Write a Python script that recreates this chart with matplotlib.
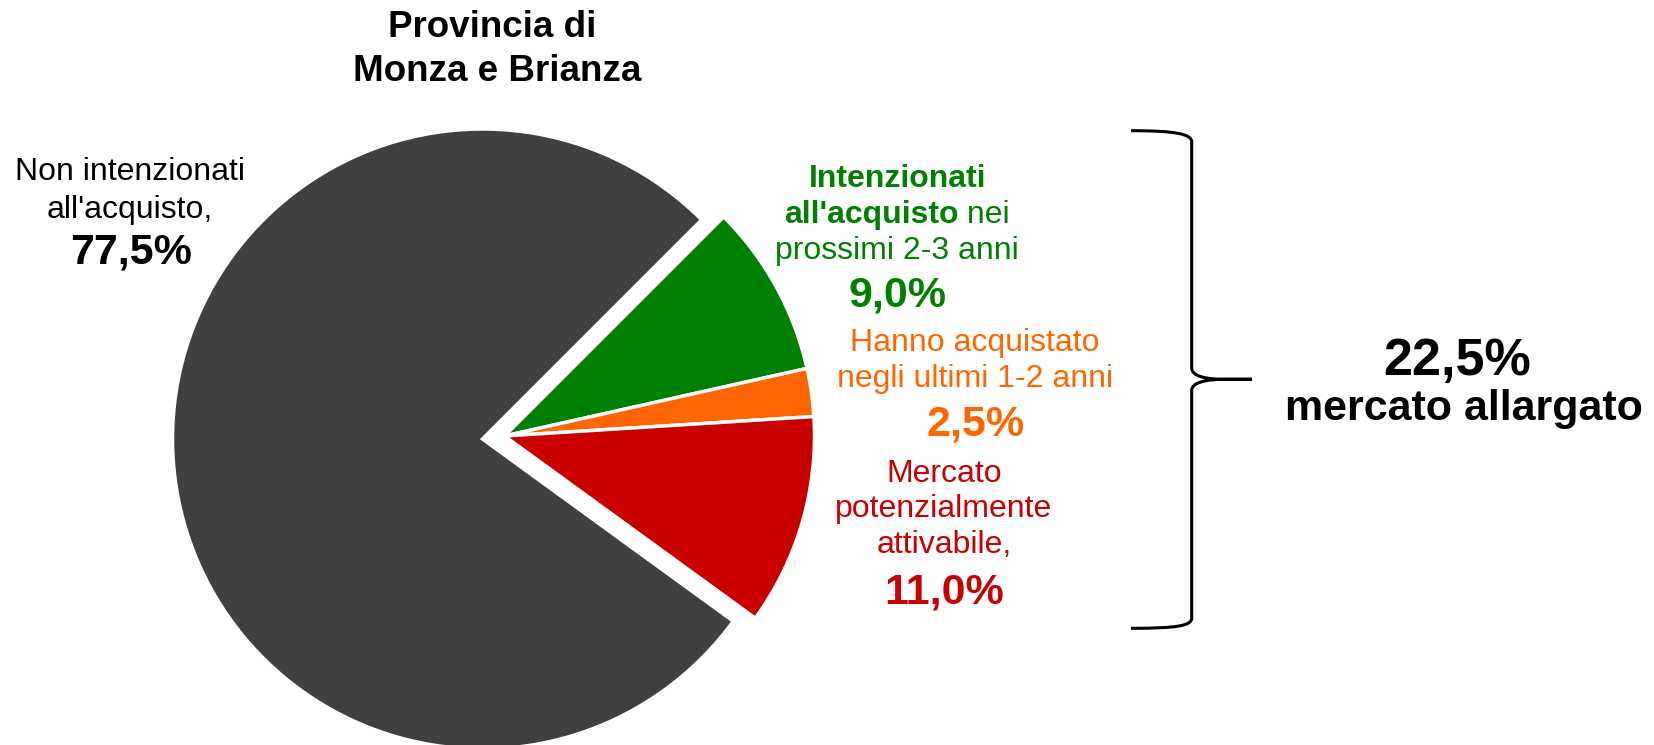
import matplotlib.pyplot as plt
from matplotlib.path import Path
from matplotlib.patches import PathPatch

plt.rcParams['font.family'] = ['Liberation Sans', 'DejaVu Sans']

# Provincia di Monza e Brianza - shares, clockwise from top right
segments = ["Intenzionati all'acquisto", "Hanno acquistato", "Mercato potenzialmente attivabile", "Non intenzionati"]
shares = [9.0, 2.5, 11.0, 77.5]
colors = ["#008000", "#FF6600", "#C80000", "#404040"]


def pct(v):
    return f"{v:.1f}".replace('.', ',') + "%"


W, H = 1654, 745
fig = plt.figure(figsize=(W / 100, H / 100), dpi=100)
ax = fig.add_axes([0, 0, 1, 1])

cx, cy = 482.5, H - 439
wedges, _ = ax.pie(shares, colors=colors, startangle=45, counterclock=False,
                   center=(cx, cy), radius=310,
                   wedgeprops=dict(edgecolor='white', linewidth=2.5))
ax.set_xlim(0, W)
ax.set_ylim(0, H)
ax.set_aspect('equal')
ax.axis('off')

# the three slices of the "mercato allargato" are pulled out together
for w in wedges[:3]:
    w.set_center((cx + 22, cy + 3))


def txt(x, y, s, **kw):
    # y measured from the top, like the picture
    return ax.text(x, H - y, s, ha='center', va='baseline', **kw)


FS = 23
FS_PCT = 31

# title
txt(492, 36.7, "Provincia di", fontsize=26.5, fontweight='bold')
txt(497, 81, "Monza e Brianza", fontsize=26.5, fontweight='bold')

# non intenzionati
txt(130, 180, "Non intenzionati", fontsize=FS)
txt(130, 217.7, "all'acquisto,", fontsize=FS)
txt(131, 264, pct(shares[3]), fontsize=FS_PCT, fontweight='bold')

# intenzionati
g = colors[0]
txt(898, 186.7, "Intenzionati", fontsize=FS, fontweight='bold', color=g)
t1 = ax.text(0, H - 222.7, "all'acquisto", fontsize=FS, fontweight='bold', color=g,
             ha='left', va='baseline')
t2 = ax.text(0, H - 222.7, " nei", fontsize=FS, color=g, ha='left', va='baseline')
txt(897, 259, "prossimi 2-3 anni", fontsize=FS, color=g)
txt(897, 306.7, pct(shares[0]), fontsize=FS_PCT, fontweight='bold', color=g)

# hanno acquistato
o = colors[1]
txt(975, 350.7, "Hanno acquistato", fontsize=FS, color=o)
txt(975, 387.3, "negli ultimi 1-2 anni", fontsize=FS, color=o)
txt(976, 435, pct(shares[1]), fontsize=FS_PCT, fontweight='bold', color=o)

# mercato potenzialmente attivabile
r = colors[2]
txt(944, 481.7, "Mercato", fontsize=FS, color=r)
txt(944, 517.3, "potenzialmente", fontsize=FS, color=r)
txt(944, 553.3, "attivabile,", fontsize=FS, color=r)
txt(944, 603.3, pct(shares[2]), fontsize=FS_PCT, fontweight='bold', color=r)

# mercato allargato
txt(1457, 375, pct(sum(shares[:3])), fontsize=37.5, fontweight='bold')
txt(1464, 420, "mercato allargato", fontsize=31, fontweight='bold')

# curly brace
pts = [(1131, 130.7), (1176, 130.7), (1191.7, 134), (1191.7, 142),
       (1191.7, 368),
       (1191.7, 376), (1205, 379.3), (1225, 379.3),
       (1251.7, 379.3),
       (1225, 379.3),
       (1205, 379.3), (1191.7, 382.6), (1191.7, 390.6),
       (1191.7, 618),
       (1191.7, 626), (1176, 628.3), (1131, 628.3)]
codes = [Path.MOVETO, Path.CURVE4, Path.CURVE4, Path.CURVE4,
         Path.LINETO,
         Path.CURVE4, Path.CURVE4, Path.CURVE4,
         Path.LINETO,
         Path.LINETO,
         Path.CURVE4, Path.CURVE4, Path.CURVE4,
         Path.LINETO,
         Path.CURVE4, Path.CURVE4, Path.CURVE4]
brace = Path([(x, H - y) for x, y in pts], codes)
ax.add_patch(PathPatch(brace, fill=False, edgecolor='black', linewidth=2.2))

# centre the mixed bold/regular line
fig.canvas.draw()
w1 = t1.get_window_extent().width
w2 = t2.get_window_extent().width
x0 = 897 - (w1 + w2) / 2
t1.set_x(x0)
t2.set_x(x0 + w1)

fig.savefig('out.png', dpi=100)
